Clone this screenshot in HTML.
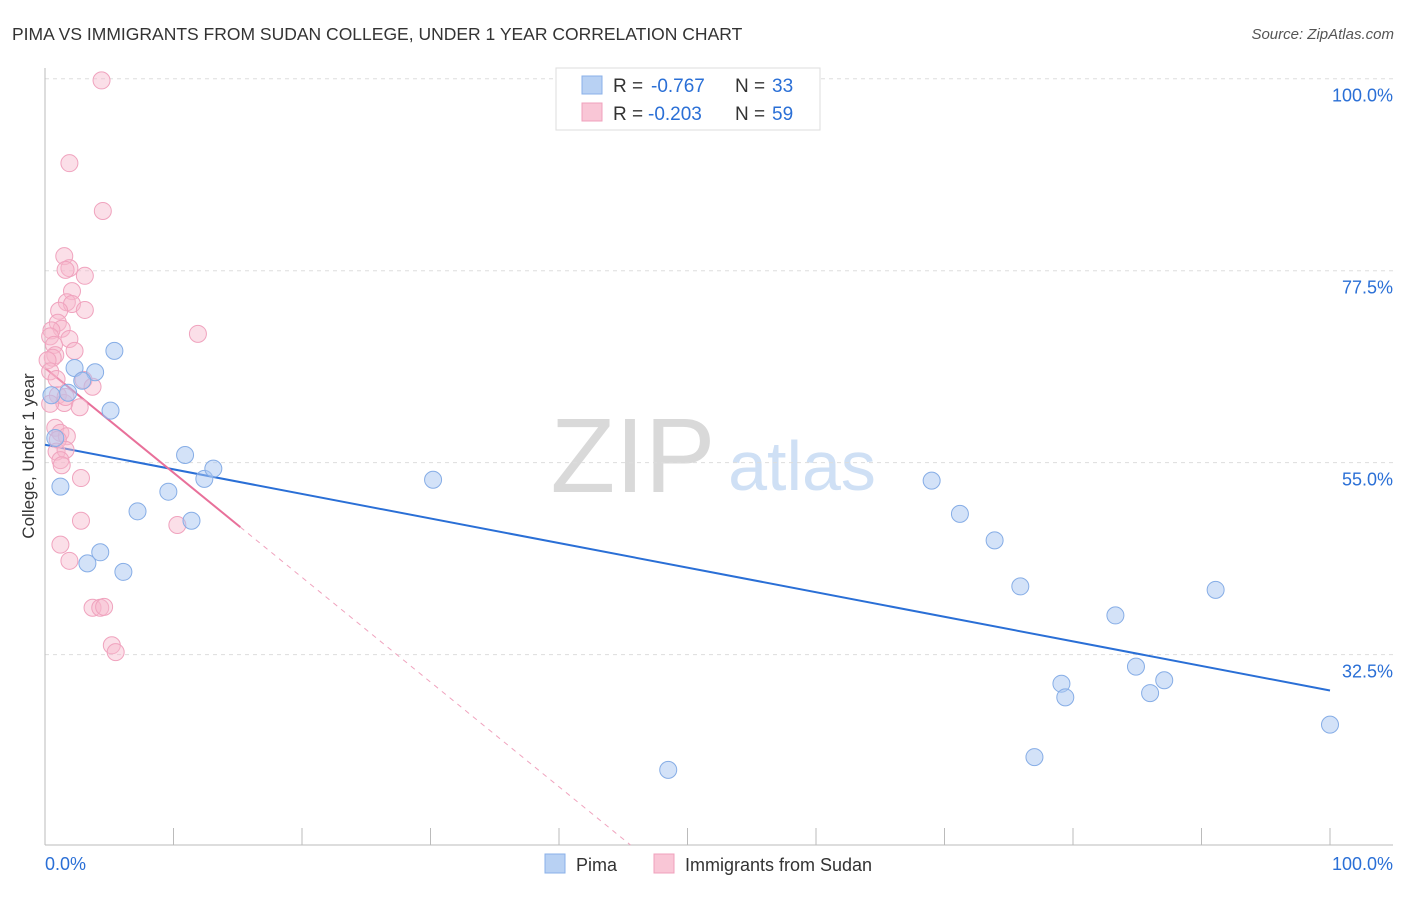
<!DOCTYPE html>
<html><head><meta charset="utf-8"><style>
body{margin:0;background:#fff;font-family:"Liberation Sans",sans-serif;}
svg text{font-family:"Liberation Sans",sans-serif;}
</style></head><body>
<svg id="c" width="1406" height="892" viewBox="0 0 1406 892" xmlns="http://www.w3.org/2000/svg">
<text x="12" y="40" font-size="17.5" fill="#333">PIMA VS IMMIGRANTS FROM SUDAN COLLEGE, UNDER 1 YEAR CORRELATION CHART</text>
<text x="1394" y="39" font-size="15" fill="#555" font-style="italic" text-anchor="end">Source: ZipAtlas.com</text>
<text x="633" y="492" font-size="106" fill="#d9d9d9" font-family="Liberation Serif" text-anchor="middle">ZIP</text>
<text x="802" y="490" font-size="70" fill="#cfe0f5" text-anchor="middle">atlas</text>
<g id="grid"></g><g id="axes"></g><g id="lines"></g><g id="pts"></g>
<text x="34" y="456" font-size="17" fill="#333" text-anchor="middle" transform="rotate(-90 34 456)">College, Under 1 year</text>
<g>
<rect x="556" y="68" width="264" height="62" fill="#fff" stroke="#ddd"/>
<rect x="582" y="76" width="20" height="18" fill="#b8d1f3" stroke="#8ab0e8"/>
<text x="613" y="92" font-size="19" fill="#333">R =</text>
<text x="651" y="92" font-size="19" fill="#2a6fd6">-0.767</text>
<text x="735" y="92" font-size="19" fill="#333">N =</text>
<text x="772" y="92" font-size="19" fill="#2a6fd6">33</text>
<rect x="582" y="103" width="20" height="18" fill="#f9c6d6" stroke="#f0a0bc"/>
<text x="613" y="120" font-size="19" fill="#333">R =</text>
<text x="648" y="120" font-size="19" fill="#2a6fd6">-0.203</text>
<text x="735" y="120" font-size="19" fill="#333">N =</text>
<text x="772" y="120" font-size="19" fill="#2a6fd6">59</text>
</g>
<g>
<rect x="545" y="854" width="20" height="19" fill="#b8d1f3" stroke="#8ab0e8"/>
<text x="576" y="871" font-size="18" fill="#333">Pima</text>
<rect x="654" y="854" width="20" height="19" fill="#f9c6d6" stroke="#f0a0bc"/>
<text x="685" y="871" font-size="18" fill="#333">Immigrants from Sudan</text>
</g>
</svg>
<script>
const yTicks=[100,77.5,55,32.5];
const yTickLabels=["100.0%","77.5%","55.0%","32.5%"];
const xTickLabels=["0.0%","100.0%"];
const pimaX=[5.4,2.3,3.9,2.9,1.8,5.1,1.2,3.3,4.3,6.1,7.2,9.6,10.9,12.4,13.1,11.4,30.2,69.0,71.2,73.9,75.9,83.3,91.1,84.9,87.1,86.0,79.1,79.4,77.0,48.5,100,0.8,0.5];
const pimaY=[68.1,66.1,65.6,64.6,63.2,61.1,52.2,43.2,44.5,42.2,49.3,51.6,55.9,53.1,54.3,48.2,53.0,52.9,49.0,45.9,40.5,37.1,40.1,31.1,29.5,28.0,29.1,27.5,20.5,19.0,24.3,57.9,62.9];
const sudanX=[4.4,1.9,4.5,1.5,1.9,1.6,3.1,2.1,1.7,2.1,3.1,1.1,1.0,1.3,0.5,0.4,1.9,0.7,2.3,0.8,0.6,0.2,0.4,0.9,3.0,3.7,1.0,1.5,0.4,2.7,0.8,1.2,1.7,1.0,0.9,1.6,1.2,1.3,2.8,11.9,2.8,10.3,1.2,1.9,3.7,4.3,4.6,5.2,5.5,1.6];
const sudanY=[99.8,90.1,84.5,79.2,77.8,77.6,76.9,75.1,73.8,73.6,72.9,72.8,71.4,70.7,70.5,69.8,69.5,68.8,68.1,67.6,67.3,67.0,65.7,64.8,64.7,63.9,62.9,62.0,61.9,61.5,59.1,58.5,58.1,57.7,56.3,56.5,55.3,54.7,53.2,70.1,48.2,47.7,45.4,43.5,38.0,38.0,38.1,33.6,32.8,62.7];
const pimaTrend=[57.1,28.3];
const sudanTrend=[66.1,-56.6];
const sudanSolidEnd=15.2;
const NS="http://www.w3.org/2000/svg";
const X0=45,X1=1330,L=45,R=1393,B=845;
const sx=v=>X0+(X1-X0)*v/100;
const sy=v=>932-8.533*v;
const minY=(932-B)/8.533;
function el(t,a,p){const e=document.createElementNS(NS,t);for(const k in a)e.setAttribute(k,a[k]);document.getElementById(p).appendChild(e);return e;}
yTicks.forEach((v,i)=>{
 const g=el('line',{x1:L,x2:R,y1:sy(v),y2:sy(v),stroke:'#ddd','stroke-dasharray':'4,4'},'grid');
 
 
 const t=el('text',{x:1393,y:sy(v)+23,'font-size':18,fill:'#2a6fd6','text-anchor':'end'},'axes');
 t.textContent=yTickLabels[i];
 
 
});
let a=el('line',{x1:L,x2:R,y1:B,y2:B,stroke:'#bbb'},'axes');


a=el('line',{x1:L,x2:L,y1:68,y2:B,stroke:'#bbb'},'axes');


for(let i=0;i<=10;i++){
 const t=el('line',{x1:sx(i*10),x2:sx(i*10),y1:828,y2:B,stroke:'#bbb'},'axes');
 
 
}
[[0,'start',45],[100,'end',1393]].forEach((d,i)=>{
 const t=el('text',{x:d[2],y:870,'font-size':18,fill:'#2a6fd6','text-anchor':d[1]},'axes');
 t.textContent=xTickLabels[i];
 
 
});
function pts(xs,ys,fill,stroke,name){xs.forEach((x,i)=>{
 const c=el('circle',{cx:sx(x),cy:sy(ys[i]),r:8.5,fill:fill,stroke:stroke,'stroke-width':1},'pts');
 
 
});}
pts(sudanX,sudanY,'rgba(246,184,204,0.45)','#f0a3be','sudan-point');
pts(pimaX,pimaY,'rgba(168,198,242,0.5)','#86ade6','pima-point');
const ty=(tr,x)=>tr[0]+(tr[1]-tr[0])*x/100;
let ln=el('line',{x1:sx(0),y1:sy(ty(pimaTrend,0)),x2:sx(100),y2:sy(ty(pimaTrend,100)),stroke:'#2a6fd6','stroke-width':2},'lines');


ln=el('line',{x1:sx(0),y1:sy(ty(sudanTrend,0)),x2:sx(sudanSolidEnd),y2:sy(ty(sudanTrend,sudanSolidEnd)),stroke:'#e8709a','stroke-width':2},'lines');


const xEnd=100*(minY-sudanTrend[0])/(sudanTrend[1]-sudanTrend[0]);
ln=el('line',{x1:sx(sudanSolidEnd),y1:sy(ty(sudanTrend,sudanSolidEnd)),x2:sx(xEnd),y2:sy(ty(sudanTrend,xEnd)),stroke:'#f0a3be','stroke-width':1,'stroke-dasharray':'5,5'},'lines');


</script>
</body></html>
